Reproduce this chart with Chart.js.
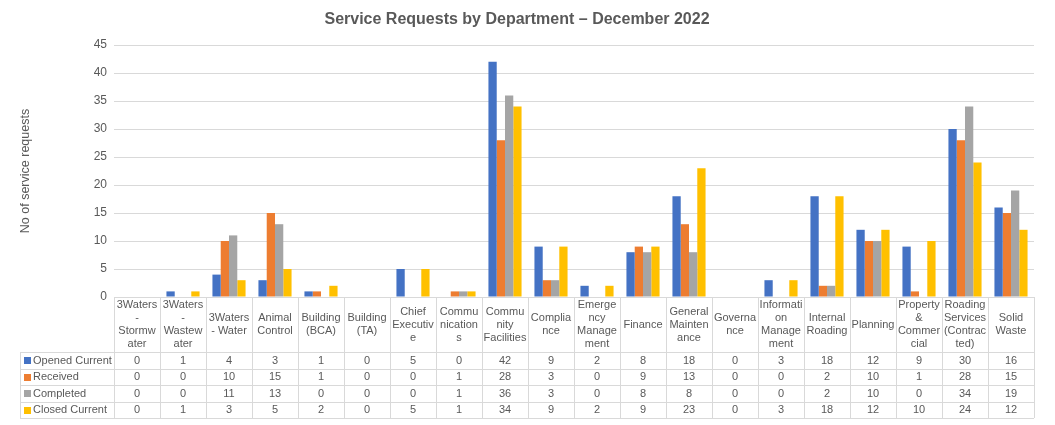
<!DOCTYPE html>
<html>
<head>
<meta charset="utf-8">
<title>Service Requests by Department</title>
<script src="https://cdn.jsdelivr.net/npm/chart.js@4/dist/chart.umd.min.js"></script>
<style>
    body { margin: 0; background: #ffffff; }
    #caixa { width: 1055px; height: 425px; position: relative; }
</style>
</head>
<body>
<div id="caixa"><canvas id="grafico-servicos"></canvas></div>
<script>
let categories = ['3Waters - Stormwater', '3Waters - Wastewater', '3Waters - Water', 'Animal Control',
    'Building (BCA)', 'Building (TA)', 'Chief Executive', 'Communications', 'Community Facilities',
    'Compliance', 'Emergency Management', 'Finance', 'General Maintenance', 'Governance',
    'Information Management', 'Internal Roading', 'Planning', 'Property & Commercial',
    'Roading Services (Contracted)', 'Solid Waste'];

let openedCurrent = [0, 1, 4, 3, 1, 0, 5, 0, 42, 9, 2, 8, 18, 0, 3, 18, 12, 9, 30, 16];
let received = [0, 0, 10, 15, 1, 0, 0, 1, 28, 3, 0, 9, 13, 0, 0, 2, 10, 1, 28, 15];
let completed = [0, 0, 11, 13, 0, 0, 0, 1, 36, 3, 0, 8, 8, 0, 0, 2, 10, 0, 34, 19];
let closedCurrent = [0, 1, 3, 5, 2, 0, 5, 1, 34, 9, 2, 9, 23, 0, 3, 18, 12, 10, 24, 12];

let seriesNames = ['Opened Current', 'Received', 'Completed', 'Closed Current'];
let seriesColors = ['#4472C4', '#ED7D31', '#A5A5A5', '#FFC000'];
let yTicks = [0, 5, 10, 15, 20, 25, 30, 35, 40, 45];

let corTexto = '#595959';
let corLinha = '#d9d9d9';
let fonte = "'Liberation Sans', Arial, sans-serif";

// quebra o nome da categoria como o Excel faz (palavra, depois letra a letra)
function quebrarTexto(ctx, texto, limite, limitePalavra) {
    let palavras = texto.split(' ');
    let linhas = [];
    let atual = '';
    for (let p of palavras) {
        let teste = atual ? atual + ' ' + p : p;
        if (ctx.measureText(teste).width <= limite) {
            atual = teste;
            continue;
        }
        if (atual) {
            linhas.push(atual);
            atual = '';
        }
        if (ctx.measureText(p).width <= limitePalavra) {
            atual = p;
            continue;
        }
        let pedaco = '';
        for (let c of p) {
            if (pedaco && ctx.measureText(pedaco + c).width > limite) {
                linhas.push(pedaco);
                pedaco = c;
            } else {
                pedaco += c;
            }
        }
        atual = pedaco;
    }
    if (atual) linhas.push(atual);
    return linhas;
}

let tabelaDados = {
    id: 'tabelaDados',
    afterDraw(chart) {
        let ctx = chart.ctx;
        let xs = chart.scales.x;
        let area = chart.chartArea;
        let n = categories.length;
        let colW = xs.width / n;
        let top = area.bottom;
        let headerBottom = top + 55;
        let rowH = 16.5;
        let legendLeft = 20;
        let bottom = headerBottom + rowH * seriesNames.length;
        let px = v => Math.round(v) + 0.5;

        ctx.save();
        ctx.strokeStyle = corLinha;
        ctx.lineWidth = 1;
        ctx.beginPath();
        // linhas horizontais
        ctx.moveTo(xs.left, px(top));
        ctx.lineTo(xs.right, px(top));
        for (let r = 0; r <= seriesNames.length; r++) {
            let y = px(headerBottom + r * rowH);
            ctx.moveTo(legendLeft, y);
            ctx.lineTo(xs.right, y);
        }
        // linhas verticais
        for (let i = 0; i <= n; i++) {
            let x = px(xs.left + i * colW);
            ctx.moveTo(x, top);
            ctx.lineTo(x, bottom);
        }
        ctx.moveTo(px(legendLeft), headerBottom);
        ctx.lineTo(px(legendLeft), bottom);
        ctx.stroke();

        ctx.font = '11px ' + fonte;
        ctx.fillStyle = corTexto;
        ctx.textAlign = 'center';
        ctx.textBaseline = 'middle';

        let dados = chart.data.datasets;
        for (let i = 0; i < n; i++) {
            let cx = xs.getPixelForValue(i);
            let linhas = quebrarTexto(ctx, categories[i], 43, 46);
            let y0 = (top + headerBottom) / 2 - (linhas.length - 1) * 13 / 2;
            for (let k = 0; k < linhas.length; k++) {
                ctx.fillText(linhas[k], cx, y0 + k * 13);
            }
            for (let r = 0; r < dados.length; r++) {
                let cy = headerBottom + r * rowH + rowH / 2 + 0.5;
                ctx.fillText(String(dados[r].data[i]), cx, cy);
            }
        }

        ctx.textAlign = 'left';
        for (let r = 0; r < dados.length; r++) {
            let cy = headerBottom + r * rowH + rowH / 2 + 0.5;
            ctx.fillStyle = dados[r].backgroundColor;
            ctx.fillRect(24, Math.round(cy - 3.5), 7, 7);
            ctx.fillStyle = corTexto;
            ctx.fillText(dados[r].label, 33, cy);
        }
        ctx.restore();
    }
};

function plotarGrafico() {
    Chart.defaults.font.family = fonte;
    Chart.defaults.color = corTexto;

    let valores = [openedCurrent, received, completed, closedCurrent];
    let datasets = [];
    for (let i = 0; i < valores.length; i++) {
        datasets.push({
            label: seriesNames[i],
            data: valores[i],
            backgroundColor: seriesColors[i],
            borderWidth: 0,
            categoryPercentage: 0.72,
            barPercentage: 1
        });
    }

    let config = {
        type: 'bar',
        data: {
            labels: categories,
            datasets: datasets
        },
        options: {
            responsive: true,
            maintainAspectRatio: false,
            animation: false,
            layout: {
                padding: { left: 0, right: 21, top: 0, bottom: 0 }
            },
            plugins: {
                legend: { display: false },
                tooltip: { enabled: false },
                title: {
                    display: true,
                    text: 'Service Requests by Department – December 2022',
                    color: corTexto,
                    font: { size: 16, weight: 'bold' },
                    padding: { top: 10, bottom: 15.8 }
                }
            },
            scales: {
                x: {
                    grid: { display: false },
                    border: { display: false },
                    ticks: { display: false },
                    afterFit: function (escala) {
                        escala.height = 128;
                    }
                },
                y: {
                    min: 0,
                    max: 45,
                    afterBuildTicks: function (escala) {
                        escala.ticks = yTicks.map(v => ({ value: v }));
                    },
                    grid: { color: corLinha, lineWidth: 1, drawTicks: false },
                    border: { display: false },
                    ticks: {
                        color: corTexto,
                        font: { size: 12 },
                        padding: 7
                    },
                    title: {
                        display: true,
                        text: 'No of service requests',
                        color: corTexto,
                        font: { size: 12.5 },
                        padding: { top: 18, bottom: 0 }
                    },
                    afterFit: function (escala) {
                        escala.width = 114;
                    }
                }
            }
        },
        plugins: [tabelaDados]
    };

    let meuGrafico = new Chart(
        document.getElementById('grafico-servicos'),
        config
    );
}

plotarGrafico();
</script>
</body>
</html>
